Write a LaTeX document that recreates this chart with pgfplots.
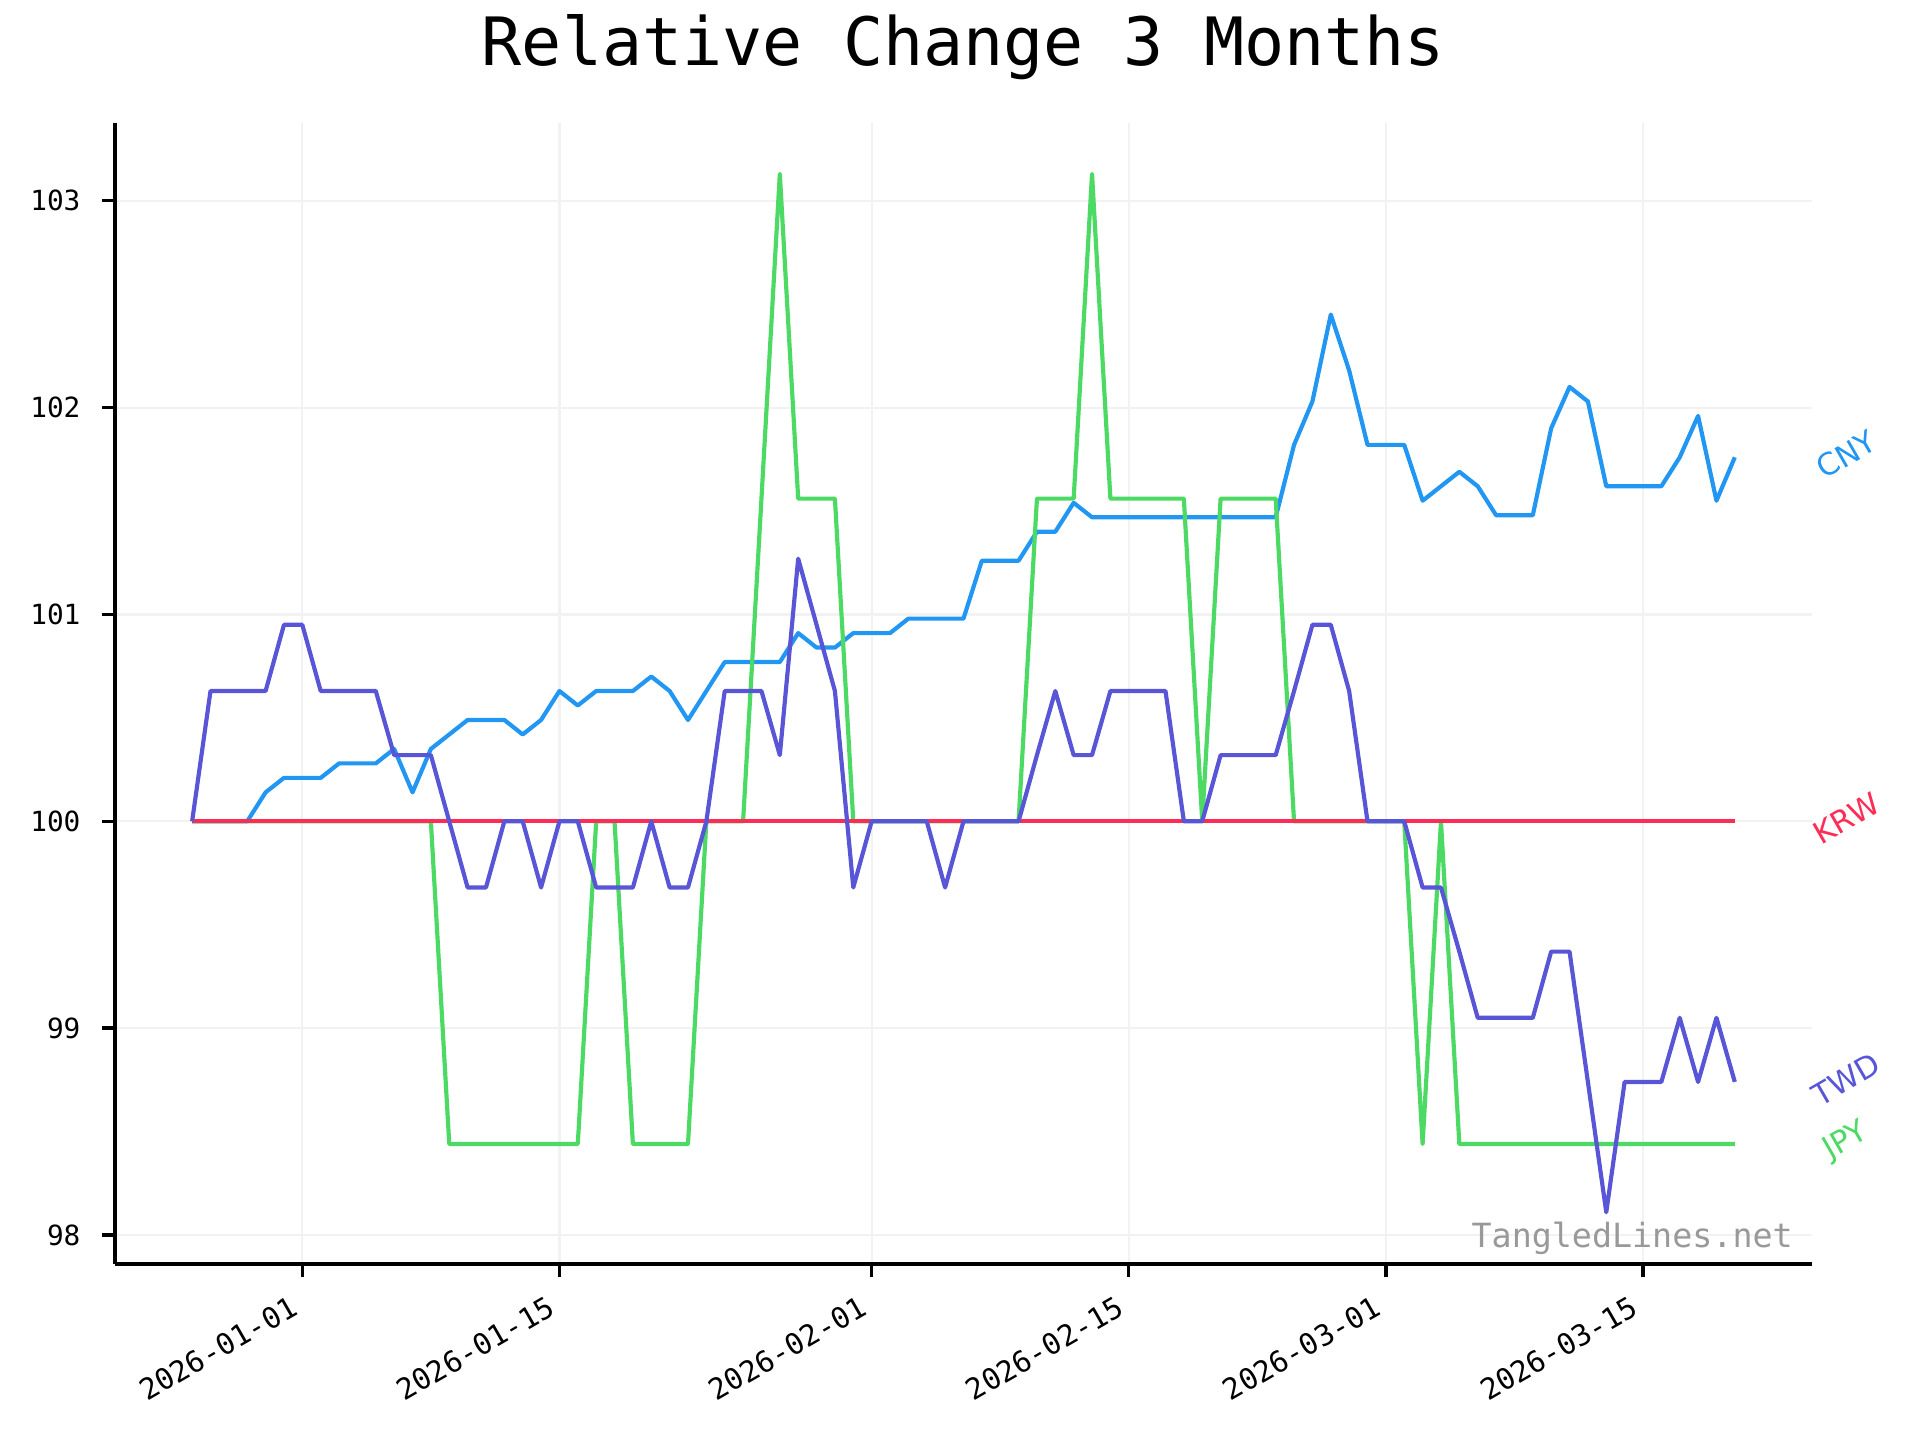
\documentclass[border=0pt]{standalone}
\usepackage{fontspec}
\setmainfont{DejaVu Sans Mono}
\newfontfamily\labelfont{DejaVu Sans}
\usepackage{pgfplots}
\pgfplotsset{compat=1.18}
\usepackage{pgfplotstable}

\definecolor{cny}{HTML}{2196F3}
\definecolor{krw}{HTML}{FF2D55}
\definecolor{twd}{HTML}{5856D6}
\definecolor{jpy}{HTML}{4CD964}
\definecolor{gridgray}{HTML}{F2F2F2}
\definecolor{wmgray}{HTML}{999999}

% day 0 = 2026-01-01
\pgfplotstableread{
day cny jpy krw twd
-6 100 100 100 100
-5 100 100 100 100.63
-4 100 100 100 100.63
-3 100 100 100 100.63
-2 100.14 100 100 100.63
-1 100.21 100 100 100.95
0 100.21 100 100 100.95
1 100.21 100 100 100.63
2 100.28 100 100 100.63
3 100.28 100 100 100.63
4 100.28 100 100 100.63
5 100.35 100 100 100.32
6 100.14 100 100 100.32
7 100.35 100 100 100.32
8 100.42 98.44 100 100
9 100.49 98.44 100 99.68
10 100.49 98.44 100 99.68
11 100.49 98.44 100 100
12 100.42 98.44 100 100
13 100.49 98.44 100 99.68
14 100.63 98.44 100 100
15 100.56 98.44 100 100
16 100.63 100 100 99.68
17 100.63 100 100 99.68
18 100.63 98.44 100 99.68
19 100.70 98.44 100 100
20 100.63 98.44 100 99.68
21 100.49 98.44 100 99.68
22 100.63 100 100 100
23 100.77 100 100 100.63
24 100.77 100 100 100.63
25 100.77 101.56 100 100.63
26 100.77 103.13 100 100.32
27 100.91 101.56 100 101.27
28 100.84 101.56 100 100.95
29 100.84 101.56 100 100.63
30 100.91 100 100 99.68
31 100.91 100 100 100
32 100.91 100 100 100
33 100.98 100 100 100
34 100.98 100 100 100
35 100.98 100 100 99.68
36 100.98 100 100 100
37 101.26 100 100 100
38 101.26 100 100 100
39 101.26 100 100 100
40 101.40 101.56 100 100.32
41 101.40 101.56 100 100.63
42 101.54 101.56 100 100.32
43 101.47 103.13 100 100.32
44 101.47 101.56 100 100.63
45 101.47 101.56 100 100.63
46 101.47 101.56 100 100.63
47 101.47 101.56 100 100.63
48 101.47 101.56 100 100
49 101.47 100 100 100
50 101.47 101.56 100 100.32
51 101.47 101.56 100 100.32
52 101.47 101.56 100 100.32
53 101.47 101.56 100 100.32
54 101.82 100 100 100.63
55 102.03 100 100 100.95
56 102.45 100 100 100.95
57 102.18 100 100 100.63
58 101.82 100 100 100
59 101.82 100 100 100
60 101.82 100 100 100
61 101.55 98.44 100 99.68
62 101.62 100 100 99.68
63 101.69 98.44 100 99.37
64 101.62 98.44 100 99.05
65 101.48 98.44 100 99.05
66 101.48 98.44 100 99.05
67 101.48 98.44 100 99.05
68 101.90 98.44 100 99.37
69 102.10 98.44 100 99.37
70 102.03 98.44 100 98.74
71 101.62 98.44 100 98.11
72 101.62 98.44 100 98.74
73 101.62 98.44 100 98.74
74 101.62 98.44 100 98.74
75 101.76 98.44 100 99.05
76 101.96 98.44 100 98.74
77 101.55 98.44 100 99.05
78 101.76 98.44 100 98.74
}\fxdata

\begin{document}
\begin{tikzpicture}
\path[use as bounding box] (-41.4pt,-63.4pt) rectangle (649.8pt,455.1pt);
\begin{axis}[
    at={(0pt,0pt)}, anchor=south west,
    scale only axis,
    width=610.9pt, height=410.8pt,
    xmin=-10.2, xmax=82.2,
    ymin=97.859, ymax=103.376,
    axis x line*=bottom, axis y line*=left,
    axis line style={line width=1.2pt, -},
    xtick={0,14,31,45,59,73},
    xticklabels={2026-01-01,2026-01-15,2026-02-01,2026-02-15,2026-03-01,2026-03-15},
    ytick={98,99,100,101,102,103},
    yticklabels={98,99,100,101,102,103},
    tick align=outside,
    major tick length=4.5pt,
    tick style={line width=1.2pt, black},
    grid=major,
    major grid style={line width=0.8pt, gridgray},
    yticklabel style={anchor=east, font=\fontsize{10}{12}\selectfont, xshift=-4.4pt},
    xticklabel style={xshift=-4.5pt, yshift=-5pt, rotate=30, anchor=north east,
        inner sep=1pt, font=\fontsize{10.5}{12.5}\selectfont},
    clip=false,
    every axis plot/.append style={line width=1.5pt, line join=round},
]
\addplot[cny] table[x=day, y=cny] {\fxdata};
\addplot[jpy] table[x=day, y=jpy] {\fxdata};
\addplot[krw] table[x=day, y=krw] {\fxdata};
\addplot[twd] table[x=day, y=twd] {\fxdata};

\node[rotate=30, text=cny, font=\labelfont\fontsize{11}{13}\selectfont] at (axis cs:84.15,101.76) [yshift=1.1pt] {CNY};
\node[rotate=30, text=krw, font=\labelfont\fontsize{11}{13}\selectfont] at (axis cs:84.15,100) [yshift=1.1pt] {KRW};
\node[rotate=30, text=twd, font=\labelfont\fontsize{11}{13}\selectfont] at (axis cs:84.15,98.74) [yshift=1.1pt] {TWD};
\node[rotate=30, text=jpy, font=\labelfont\fontsize{11}{13}\selectfont] at (axis cs:84.15,98.44) [yshift=1.1pt] {JPY};

\node[anchor=base east, inner sep=0pt, text=wmgray, font=\fontsize{12}{14}\selectfont] at (rel axis cs:0.989,0) [yshift=6.1pt] {TangledLines.net};
\node[anchor=base, inner sep=0pt, font=\fontsize{24}{28}\selectfont] at (rel axis cs:0.5,1) [yshift=20.7pt] {Relative Change 3 Months};
\end{axis}
\end{tikzpicture}
\end{document}
